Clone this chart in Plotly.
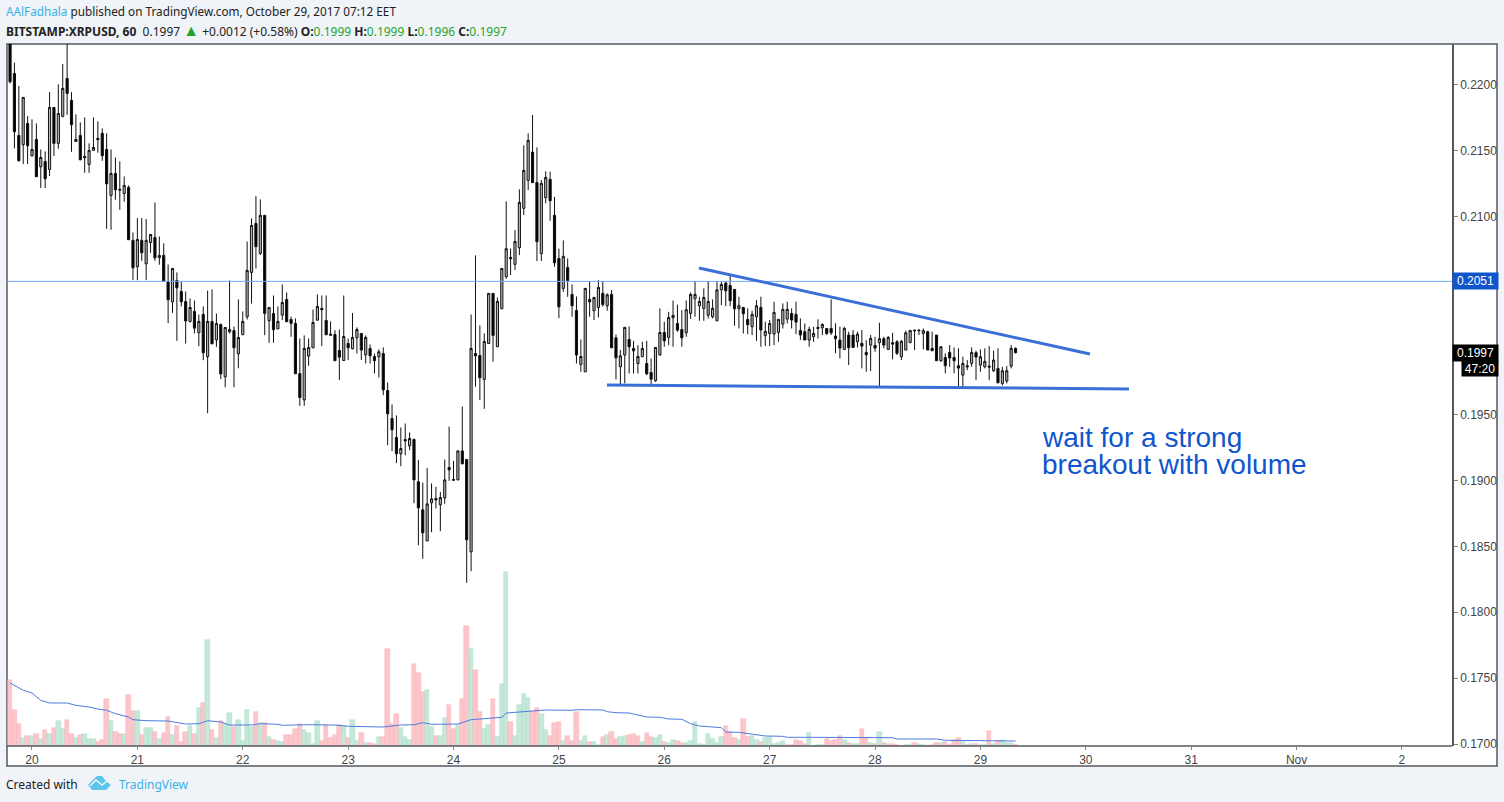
import pandas as pd
import plotly.graph_objects as go

# hourly XRPUSD candles
opens = [
    .2240, .22088, .21617, .21547, .21708, .21463, .21587, .2138, .2142, .21359,
    .2183, .21557, .21762, .2205, .21883, .21572, .21617, .21458, .21397, .21504,
    .21595, .21633, .21511, .21162, .21329, .21208, .21177, .21223, .20821, .20621,
    .20821, .20643, .20805, .20843, .20689, .20707, .20509, .20355, .20517, .20433,
    .20357, .20206, .20282, .2012, .20259, .19938, .20206, .20066, .20183, .19786,
    .20127, .20137, .1996, .20105, .20241, .20578, .2095, .20722, .21011, .20211,
    .20267, .2015, .20254, .20373, .20221, .20191, .19811, .19611, .19943, .20006,
    .20216, .20305, .20214, .2011, .20107, .19986, .1991, .20039, .19999, .20082,
    .20115, .19953, .20001, .1994, .19938, .19963, .19682, .1947, .19326, .19202,
    .1931, .19262, .1931, .18989, .18777, .18541, .1883, .18863, .18815, .18868,
    .19098, .19007, .19004, .19224, .19159, .18458, .19963, .19948, .19766, .20039,
    .20419, .20014, .20302, .20545, .20692, .20639, .20765, .21064, .21276, .21491,
    .21261, .2072, .21145, .21284, .21011, .20684, .20457, .20616, .20411, .2029,
    .1988, .19824, .20373, .20287, .20312, .20419, .20325, .20411, .20082, .19862,
    .19951, .20069, .20001, .19887, .19938, .19887, .19819, .19756, .19951, .20122,
    .20085, .20234, .20191, .20145, .2012, .20267, .20378, .20325, .20305, .20254,
    .20242, .20211, .20446, .20497, .20479, .20449, .20302, .20312, .20221, .20166,
    .20242, .20313, .20098, .20115, .2011, .20123, .20186, .20224, .20267, .2026,
    .20138, .20128, .20065, .2009, .20161, .20158, .20153, .20153, .20095, .20065,
    .19994, .20103, .20103, .20052, .2004, .19971, .20027, .20024, .20045, .20075,
    .19994, .20045, .20052, .19938, .19989, .20047, .20141, .20141, .20115, .20128,
    .20002, .20103, .19908, .19933, .19971, .19933, .1987, .19799, .1987, .19888,
    .19969, .19875, .19862, .19867, .19832, .1985, .19736, .19754, .19867, .20002,
]
highs = [
    .2250, .22169, .21992, .21906, .21764, .21739, .21708, .21511, .21496, .21946,
    .2183, .22005, .22159, .2245, .21946, .21777, .21716, .21754, .21557, .21754,
    .21724, .21671, .21633, .21511, .2145, .2142, .21306, .21238, .20881, .2099,
    .2099, .20983, .20866, .21109, .20851, .20798, .20638, .20608, .20578, .20509,
    .20433, .2038, .20365, .20259, .2032, .2044, .20449, .20266, .2019, .20165,
    .20517, .20168, .20373, .20282, .20813, .20987, .21157, .21132, .21011, .20312,
    .20403, .2032, .20487, .20426, .20242, .20229, .20077, .201, .20077, .20297,
    .20411, .20403, .20403, .20206, .2014, .20145, .20403, .20077, .2027, .20161,
    .20115, .201, .20031, .19963, .19994, .20009, .19743, .19576, .19493, .19402,
    .19432, .19364, .19318, .19156, .18984, .19095, .18977, .18951, .18913, .19159,
    .19409, .19149, .19224, .19561, .19159, .20259, .20707, .20176, .20115, .20419,
    .20419, .20388, .20608, .21117, .2076, .20899, .21208, .21542, .21633, .21772,
    .21527, .21279, .21345, .21342, .21152, .20758, .20821, .20684, .20487, .20396,
    .20069, .20457, .20512, .20393, .2052, .20512, .20419, .20444, .20107, .19989,
    .20161, .20168, .20059, .20026, .20052, .20059, .19925, .20009, .20305, .20204,
    .20279, .20365, .20333, .20292, .20365, .20426, .20512, .20393, .20457, .20512,
    .20373, .20512, .20507, .20507, .20558, .20449, .20393, .20317, .20305, .20287,
    .20368, .20394, .20204, .20217, .20356, .20222, .20343, .20356, .20305, .20356,
    .20229, .20191, .20166, .20166, .20222, .20191, .20153, .20373, .20191, .20166,
    .20166, .20128, .20141, .20128, .20141, .20065, .20103, .2009, .20196, .2009,
    .20095, .2012, .20065, .20065, .20136, .20141, .20141, .20146, .20153, .20136,
    .20128, .20103, .20019, .19964, .20027, .20009, .20002, .19938, .19913, .20009,
    .19984, .19994, .20002, .20019, .19984, .20002, .19862, .19867, .20027, .20009,
]
lows = [
    .22012, .21519, .2142, .214, .214, .21456, .21304, .21218, .21218, .21309,
    .21461, .21516, .21754, .21774, .21493, .21569, .21428, .21334, .21334, .21504,
    .21486, .21425, .20909, .20901, .21129, .21053, .21114, .20826, .20519, .20519,
    .20666, .20519, .20727, .20666, .20636, .20509, .20193, .20271, .20059, .2032,
    .20039, .20198, .20115, .20018, .19912, .1951, .20036, .20013, .19768, .19707,
    .20115, .19707, .19851, .20105, .20221, .20342, .20608, .2071, .20102, .20044,
    .20044, .20148, .20216, .20204, .2009, .19809, .19566, .19566, .1987, .20006,
    .20211, .20019, .20105, .20102, .19908, .19761, .1991, .19913, .19994, .19963,
    .19913, .19887, .19887, .19811, .19781, .19647, .19267, .19222, .19131, .19108,
    .19191, .19229, .18827, .18508, .18405, .18541, .18607, .18787, .18615, .18822,
    .18997, .19002, .19002, .19123, .18223, .18311, .1971, .19609, .19543, .20037,
    .199, .20014, .20302, .2053, .20558, .20596, .2071, .21013, .21203, .21259,
    .20664, .20664, .21102, .2097, .20621, .20231, .20431, .20393, .20242, .19887,
    .19824, .19824, .20242, .20216, .20236, .20317, .20287, .20006, .19766, .19723,
    .19736, .19811, .19811, .19811, .19938, .19799, .19723, .19748, .19951, .20014,
    .20026, .20014, .20128, .20014, .2009, .20226, .20242, .20211, .20211, .20229,
    .20229, .20211, .2033, .20322, .20322, .20173, .20153, .20115, .2011, .20102,
    .20059, .20014, .20019, .20019, .20027, .20052, .20153, .20191, .20153, .2011,
    .20065, .20065, .20014, .20052, .20077, .20103, .20103, .20103, .19964, .19926,
    .19989, .19875, .20009, .20009, .1985, .19824, .19829, .19976, .19711, .20002,
    .19989, .19918, .19951, .19913, .19989, .2004, .19989, .20103, .19994, .19989,
    .19984, .19908, .199, .19812, .19862, .19812, .19711, .19711, .19837, .19862,
    .19761, .19824, .1985, .19761, .19824, .19736, .19721, .19736, .1985, .19964,
]
closes = [
    .22025, .21645, .21425, .21906, .21539, .21511, .21304, .2145, .21289, .2183,
    .21557, .21784, .21974, .21936, .21698, .21587, .21433, .21448, .21504, .21526,
    .21585, .21463, .2125, .21329, .21205, .21203, .21238, .20826, .20613, .20828,
    .20727, .20821, .20866, .20689, .20707, .20509, .2037, .20608, .20461, .20355,
    .2021, .20312, .20155, .20206, .19968, .20206, .20036, .2019, .19808, .2016,
    .20145, .20006, .20084, .20206, .20593, .20934, .20773, .21011, .20267, .20312,
    .20143, .20206, .2035, .20204, .20191, .19809, .19629, .20001, .20009, .20198,
    .2032, .20295, .20105, .20102, .19908, .19935, .20092, .20006, .20085, .20145,
    .19989, .20085, .19945, .19908, .19976, .19687, .19505, .19384, .19202, .19242,
    .193, .19318, .19004, .18792, .18602, .18822, .1886, .18852, .1887, .19004,
    .1908, .19002, .19224, .19126, .18549, .20001, .19945, .19779, .20054, .20419,
    .201, .20358, .20608, .20758, .20682, .20813, .21109, .21352, .2158, .21259,
    .20811, .21254, .21299, .21122, .20651, .20317, .207, .20517, .20325, .19951,
    .1994, .20457, .20355, .20388, .20464, .20335, .20408, .20006, .1993, .19945,
    .20161, .20014, .19983, .1994, .20001, .19809, .19768, .20009, .20122, .20059,
    .20236, .20252, .2014, .20082, .20295, .20411, .20411, .20358, .20388, .20358,
    .20305, .20446, .20487, .20439, .20363, .20302, .20325, .20264, .20181, .2026,
    .20325, .20141, .20131, .20191, .20275, .20222, .20298, .20298, .20217, .20201,
    .20103, .20065, .20146, .20115, .20153, .20184, .20115, .2012, .20075, .20004,
    .20153, .20007, .20009, .2011, .20019, .19953, .20077, .20004, .20075, .20027,
    .20085, .20034, .19964, .20055, .2012, .20138, .20136, .20136, .20136, .19989,
    .19984, .19908, .20014, .1987, .19928, .19908, .19852, .19888, .19862, .19971,
    .19936, .19938, .19903, .1986, .19913, .19741, .19832, .19832, .20002, .19969,
]

# volume in millions
volumes = [
    6.57, 3.63, 2.23, .83, 1.03, 1.03, 1.17, .73, 1.63, 1.23,
    1.83, 2.53, 1.73, 2.63, 1.23, .83, 1.13, 1.23, .73, .73,
    .43, .63, 4.73, 2.53, 1.43, 1.17, 1.23, 5.13, 3.53, 3.53,
    1.13, 1.83, 1.83, 1.43, .73, 1.33, 2.93, 1.13, 2.03, .43,
    1.43, 1.97, 1.23, 3.83, 4.33, 10.63, 1.63, .83, 2.53, 2.23,
    3.33, 1.93, 2.63, .53, 3.63, 1.9, 3.43, 2.33, 2.33, .93,
    .63, .53, .43, 1.13, 1.13, 1.73, 2.23, 1.63, 1.33, .23,
    2.53, .53, 2.13, .83, 1.13, 2.13, 2.03, .83, 2.63, .53,
    1.33, .33, .33, .23, .93, .93, 9.73, 2.23, 3.23, 1.83,
    .93, .63, 8.23, 7.33, 5.43, 5.63, 1.93, 1.03, 1.03, 2.83,
    4.13, 1.73, 2.13, 4.73, 12.03, 9.73, 7.63, 3.43, 1.73, 2.13,
    4.73, .93, 6.23, 17.43, 2.43, 1.03, 4.13, 5.2, 4.8, 3.5,
    3.8, 3.2, 1.6, 1.0, 2.3, 2.4, .5, 1.0, .5, 3.4,
    .5, 1.0, .4, .4, .13, .9, 1.1, 1.4, .7, .9,
    1.0, 1.1, 1.2, 1.0, .4, 1.3, .9, .8, 1.1, .4,
    .3, .6, .5, .3, .3, .5, 2.4, .2, .13, 1.2,
    .7, .3, .9, 2.0, 1.4, .8, .6, 2.7, .9, 1.0,
    .6, .4, .8, .9, .2, .3, .5, .13, .1, .6,
    .5, .2, 1.3, .03, .13, .13, .7, .5, .6, 1.0,
    .6, .3, .2, .2, 1.7, .8, .3, .2, 1.4, .3,
    .2, .2, .13, .03, .13, .13, .3, .2, .07, .03,
    .13, .3, .3, .4, .13, .6, .8, .4, .13, .2,
    .2, .13, .13, 1.5, .2, .5, .6, .3, .3, .1,
]
vol_sides = (
    "RRRGRGRGRG" "RGGRRGRGGG" "RRRGRRGRRG" "RGGRGRRGRR" "RGRGRGRGRG"
    "GRGGGGRGRG" "RGGRRRRGGG" "GRRRRRGRGG" "RGRRGRRRRG" "GGRRRGGRGG"
    "RRGRRGRRGG" "RGGGRGGGGR" "RGGRRRGRRR" "GGRGGRGRRG" "GRRRGRRGGR"
    "GGRRGGGGGG" "GGGRRRGRRG" "GRGGGGGRRR" "RRGGGGRRRR" "GRGGRRGRGR"
    "GRRGGGRGGR" "RRGRRRRGRG" "RGGRGRGGGR"
)

# volume average line, read at the bars where it visibly bends
ma_bars = [0, 3, 5, 7, 9, 13, 15, 18, 20, 22, 24, 27, 28, 31, 36, 40, 43, 45, 48, 50,
           55, 57, 61, 62, 68, 74, 77, 81, 85, 89, 92, 94, 96, 102, 105, 112, 113, 119,
           122, 128, 129, 135, 136, 138, 141, 145, 148, 150, 153, 155, 157, 162, 163,
           166, 169, 172, 176, 177, 182, 201, 202, 211, 213, 217, 219, 229]
ma_values = [6.3, 5.57, 5.3, 4.57, 4.3, 4.3, 4.07, 3.9, 3.7, 3.57, 3.23, 2.9, 2.63, 2.53,
             2.5, 2.2, 2.23, 2.53, 2.4, 2.1, 2.1, 2.23, 2.17, 2.07, 2.13, 2.1, 1.97, 1.9,
             1.9, 2.1, 2.13, 2.33, 2.17, 2.2, 2.63, 2.87, 3.3, 3.5, 3.6, 3.57, 3.63, 3.6,
             3.43, 3.33, 3.3, 2.9, 2.87, 2.7, 2.67, 2.23, 2.0, 1.83, 1.4, 1.37, 1.17, 1.0,
             .97, .87, .87, .83, .7, .7, .57, .57, .5, .5]

day_ticks = ["2017-10-%02d" % d for d in range(20, 32)] + ["2017-11-01", "2017-11-02"]
day_labels = [str(d) for d in range(20, 32)] + ["Nov", "2"]
price_ticks = [0.22, 0.215, 0.21, 0.195, 0.19, 0.185, 0.18, 0.175, 0.17]

hours = pd.date_range("2017-10-19 19:00", periods=len(opens), freq="h")

BG = "#f0f3f7"
BORDER = "#55595e"
RED, RED_LINE = "#fcc6cb", "#f6b0b8"
GREEN, GREEN_LINE = "#c5e8d8", "#aadcc6"
LINK = "#3bb0e6"
TEXT_BLUE = "#1155cc"
TREND = "#3a6fd8"


def px(x):
    return (x - 7) / 1445


def py(y):
    return (746 - y) / 702


fig = go.Figure()

fig.add_trace(go.Bar(
    x=hours, y=volumes, yaxis="y", width=3600000,
    marker=dict(color=[RED if s == "R" else GREEN for s in vol_sides],
                line=dict(color=[RED_LINE if s == "R" else GREEN_LINE for s in vol_sides], width=0.5)),
    hoverinfo="skip", showlegend=False,
))
fig.add_trace(go.Scatter(
    x=[hours[i] for i in ma_bars], y=ma_values, yaxis="y", mode="lines",
    line=dict(color="#4f7be0", width=1), hoverinfo="skip", showlegend=False,
))
fig.add_trace(go.Candlestick(
    x=hours, open=opens, high=highs, low=lows, close=closes, yaxis="y2",
    increasing=dict(line=dict(color="#111111", width=1), fillcolor="#b8b8b8"),
    decreasing=dict(line=dict(color="#111111", width=1), fillcolor="#000000"),
    whiskerwidth=0, hoverinfo="skip", showlegend=False,
))

shapes = [
    # white panels and frame around the plot and its axes
    dict(type="rect", xref="paper", yref="paper", x0=px(7), x1=px(1497), y0=py(44), y1=py(766),
         fillcolor="white", line=dict(color=BORDER, width=1.5), layer="below"),
    dict(type="line", xref="paper", yref="paper", x0=px(7), x1=px(1452), y0=py(746), y1=py(746),
         line=dict(color=BORDER, width=1.5)),
    # last price level
    dict(type="line", xref="paper", yref="y2", x0=0, x1=1, y0=0.2051, y1=0.2051,
         line=dict(color="#6fa8f7", width=1)),
    # triangle trend lines
    dict(type="line", xref="x", yref="y2", x0="2017-10-26 07:54", x1="2017-10-30 00:56",
         y0=0.20612, y1=0.19959, line=dict(color=TREND, width=3)),
    dict(type="line", xref="x", yref="y2", x0="2017-10-25 10:57", x1="2017-10-30 09:50",
         y0=0.19724, y1=0.19694, line=dict(color=TREND, width=3)),
    # TradingView logo
    dict(type="path", xref="paper", yref="paper", fillcolor="#5cc4ec", line=dict(width=0),
         path="M %f %f L %f %f L %f %f L %f %f L %f %f L %f %f L %f %f L %f %f Z" % (
             px(88), py(785), px(94), py(779), px(97), py(776), px(102), py(776),
             px(106), py(781), px(111), py(785), px(106), py(790), px(92), py(790))),
    dict(type="path", xref="paper", yref="paper", line=dict(color=BG, width=1.5),
         path="M %f %f L %f %f L %f %f L %f %f" % (
             px(90), py(786), px(96), py(780), px(102), py(785), px(107), py(781))),
]


def label(x, y, text, size=12, color="#222222", family="Noto Sans", **kw):
    return dict(xref="paper", yref="paper", x=px(x), y=py(y), text=text, showarrow=False,
                xanchor="left", yanchor="middle", font=dict(family=family, size=size, color=color), **kw)


UP = '<span style="color:#1fa52f">%s</span>'
annotations = [
    label(4, 11, '<span style="color:%s">AAlFadhala</span> published on TradingView.com, '
                 'October 29, 2017 07:12 EET' % LINK, size=11.75),
    label(4, 30, "<b>BITSTAMP:XRPUSD, 60</b>  0.1997 "
          + '<span style="color:#1fa52f;font-size:16px">▲</span>'
          + " +0.0012 (+0.58%) <b>O:</b>"
          + UP % "0.1999" + " <b>H:</b>" + UP % "0.1999" + " <b>L:</b>" + UP % "0.1996"
          + " <b>C:</b>" + UP % "0.1997"),
    label(4, 784, "Created with"),
    label(117, 784, "TradingView", color=LINK),
    label(1040, 437, "wait for a strong", size=28, color=TEXT_BLUE, family="Liberation Sans"),
    label(1040, 464, "breakout with volume", size=28, color=TEXT_BLUE, family="Liberation Sans"),
    dict(xref="paper", yref="y2", x=1, y=0.2051, xanchor="left", yanchor="middle", text="0.2051",
         showarrow=False, width=45, height=16, bgcolor=TEXT_BLUE, borderpad=0,
         font=dict(family="Liberation Sans", size=12, color="white")),
    dict(xref="paper", yref="y2", x=1, y=0.1997, xanchor="left", yanchor="middle", text="0.1997",
         showarrow=False, width=45, height=16, bgcolor="#000000", borderpad=0,
         font=dict(family="Liberation Sans", size=12, color="white")),
    dict(xref="paper", yref="paper", x=px(1461), y=py(369), xanchor="left", yanchor="middle",
         text="47:20", showarrow=False, width=36, height=15, bgcolor="#000000", borderpad=0,
         font=dict(family="Liberation Sans", size=12, color="white")),
]

fig.update_layout(
    width=1504, height=802, autosize=False,
    margin=dict(l=7, r=52, t=44, b=56, pad=0),
    paper_bgcolor=BG, plot_bgcolor="white",
    showlegend=False, bargap=0,
    xaxis=dict(
        type="date", range=["2017-10-19 18:18:30", "2017-11-02 11:24"], rangeslider=dict(visible=False),
        tickmode="array", tickvals=day_ticks, ticktext=day_labels, ticks="outside", ticklen=3,
        tickcolor="#888888", tickfont=dict(family="Liberation Sans", size=12, color="#444444"),
        showgrid=False, zeroline=False, showline=False,
    ),
    yaxis=dict(range=[0, 70.2], visible=False, fixedrange=True),
    yaxis2=dict(
        overlaying="y", side="right", range=[0.16985, 0.22311], tickmode="array",
        tickvals=price_ticks, ticktext=["%.4f" % p for p in price_ticks],
        ticks="outside", ticklen=4, tickcolor="#888888",
        tickfont=dict(family="Liberation Sans", size=12, color="#444444"),
        showgrid=False, zeroline=False, showline=True, linecolor=BORDER, linewidth=1.5,
    ),
    shapes=shapes, annotations=annotations,
)

# the page's default body margin would push the chart off the window
fig.write_html("out.html", config=dict(displayModeBar=False),
               post_script="document.body.style.margin='0';document.body.style.background='%s';" % BG)
